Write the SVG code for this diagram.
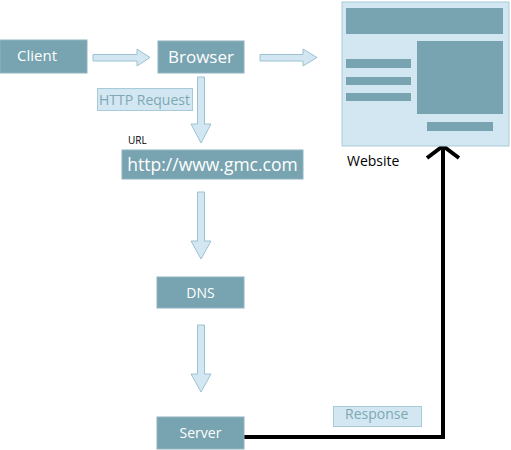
<svg xmlns="http://www.w3.org/2000/svg" width="511" height="450" viewBox="0 0 511 450">
<style>
.node{fill:#78a3b0;stroke:#8fb4c0;stroke-width:1}
.nt{fill:#ffffff;font-family:"Open Sans","Noto Sans",sans-serif;text-anchor:middle}
.lbl{fill:#d2e7f1;stroke:#a9cbd9;stroke-width:1}
.lt{fill:#7ea7b4;font-family:"Open Sans","Noto Sans",sans-serif;font-size:14px}
.arr{fill:#d2e7f1;stroke:#9cc2d2;stroke-width:1}
.bt{fill:#000;font-family:"Open Sans","Noto Sans",sans-serif}
.wb{fill:#78a3b0}
</style>
<rect width="511" height="450" fill="#ffffff"/>
<g id="connectors">
<polygon class="arr" points="93,54.5 137,54.5 137,49 150,57.5 137,66 137,61 93,61"/>
<polygon class="arr" points="260,54.5 303,54.5 303,49 317,57.5 303,66 303,61 260,61"/>
<polygon class="arr" points="197.5,77 204.5,77 204.5,124 211,124 201,143 191,124 197.5,124"/>
<polygon class="arr" points="197.5,192 204.5,192 204.5,241 211,241 201,259 191,241 197.5,241"/>
<polygon class="arr" points="197.5,325 204.5,325 204.5,374 211,374 201,392 191,374 197.5,374"/>
<polyline points="244,437 443,437 443,148" fill="none" stroke="#000" stroke-width="4"/>
<polyline points="427,158 443,146 459,158" fill="none" stroke="#000" stroke-width="4"/>
<g id="label-http">
<rect class="lbl" x="97.5" y="88.5" width="95" height="22"/>
<text class="lt" x="99" y="105">HTTP Request</text>
</g>
<g id="label-response">
<rect class="lbl" x="333.5" y="406.5" width="88" height="20"/>
<text class="lt" x="345" y="419">Response</text>
</g>
</g>
<g id="client">
<rect class="node" x="0" y="40" width="87" height="33"/>
<text class="nt" x="37" y="61" font-size="15">Client</text>
</g>
<g id="browser">
<rect class="node" x="158" y="41" width="86" height="32"/>
<text class="nt" x="201" y="63" font-size="17">Browser</text>
</g>
<g id="url">
<text class="bt" x="128" y="144" font-size="10">URL</text>
<rect class="node" x="122" y="150" width="181" height="29"/>
<text class="nt" x="212.5" y="171" font-size="17.5">http://www.gmc.com</text>
</g>
<g id="dns">
<rect class="node" x="157" y="277" width="87" height="31"/>
<text class="nt" x="200.5" y="298" font-size="14">DNS</text>
</g>
<g id="server">
<rect class="node" x="157" y="417" width="87" height="32"/>
<text class="nt" x="200.5" y="438" font-size="14">Server</text>
</g>
<g id="website">
<rect x="342" y="2" width="167" height="144" fill="#d2e7f1" stroke="#a9cbd9" stroke-width="1"/>
<rect class="wb" x="346" y="8" width="157" height="26"/>
<rect class="wb" x="417" y="41" width="86" height="73"/>
<rect class="wb" x="346" y="59" width="65" height="9"/>
<rect class="wb" x="346" y="77" width="65" height="8"/>
<rect class="wb" x="346" y="93" width="65" height="8"/>
<rect class="wb" x="427" y="122" width="66" height="9"/>
<text class="bt" x="347" y="166" font-size="14">Website</text>
</g>
</svg>
